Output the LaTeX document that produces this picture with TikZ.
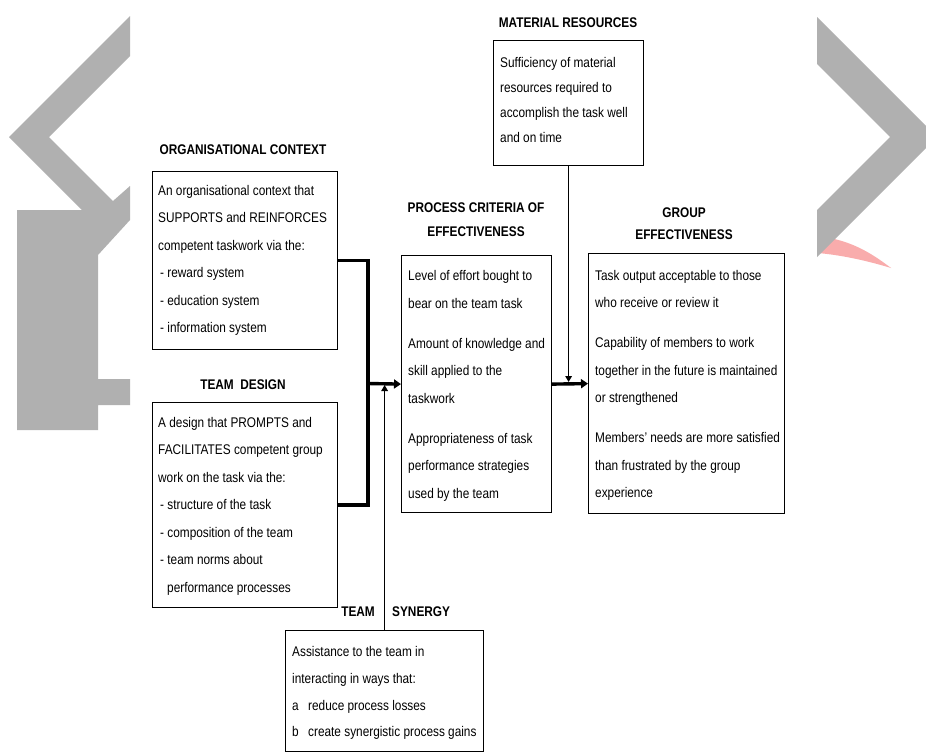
\documentclass[tikz,border=0pt]{standalone}
\usepackage{fontspec}
\setmainfont{Liberation Sans}[FakeStretch=0.845]
\usetikzlibrary{arrows.meta}
\definecolor{shadegrey}{RGB}{176,176,176}
\definecolor{blush}{RGB}{249,172,172}
\begin{document}
\begin{tikzpicture}[x=1pt,y=-1pt,
  box/.style={draw=black, line width=1.2pt, fill=white, inner sep=0pt, anchor=north west},
  body/.style={align=left, inner sep=0pt, anchor=west, font=\fontsize{14}{27.5}\selectfont},
  heading/.style={align=center, inner sep=0pt, font=\fontsize{14}{24}\selectfont\bfseries},
  feed/.style={line width=3.4pt, line cap=rect},
  feedarrow/.style={line width=3.4pt, -{Triangle[length=7pt,width=9pt]}},
  thinarrow/.style={line width=1.6pt, -{Triangle[length=6pt,width=6.5pt]}, shorten >=1.5pt}]
\useasboundingbox (0,0) rectangle (926,753);
\fill[white] (0,0) rectangle (926,753);

% background marks
\begin{scope}
  \clip (0,0) rectangle (926,753);
  \fill[shadegrey] (130,16) -- (9,137) -- (82,210) -- (17,210) -- (17,430) -- (98,430)
    -- (98,405) -- (130,405) -- (130,379) -- (98,379) -- (98,255) -- (130,220)
    -- (130,186) -- (113,201) -- (49,137) -- (130,56) -- cycle;
  \fill[blush] (818,236) .. controls (850,240) and (870,252) .. (891,268)
    .. controls (865,260) and (840,255) .. (818,253) -- cycle;
  \fill[shadegrey] (817,17) -- (937,137) -- (817,257) -- (817,210) -- (890,137) -- (817,64) -- cycle;
\end{scope}

% boxes
\node[box, minimum width=185pt, minimum height=178pt] (oc) at (152,171) {};
\node[box, minimum width=185pt, minimum height=205pt] (td) at (152,402) {};
\node[box, minimum width=150pt, minimum height=257pt] (pc) at (401,255) {};
\node[box, minimum width=196pt, minimum height=260pt] (ge) at (588,253) {};
\node[box, minimum width=150pt, minimum height=125pt] (mr) at (493,40) {};
\node[box, minimum width=198pt, minimum height=121pt] (ts) at (285,630) {};

% headings
\node[heading] (octitle) at (243,150) {ORGANISATIONAL CONTEXT};
\node[heading] (tdtitle) at (243,385) {TEAM\ \ DESIGN};
\node[heading] (pctitle) at (476,220) {PROCESS CRITERIA OF\\EFFECTIVENESS};
\node[heading, font=\fontsize{14}{22}\selectfont\bfseries] (getitle) at (684,224) {GROUP\\EFFECTIVENESS};
\node[heading] (mrtitle) at (568,23) {MATERIAL RESOURCES};
\node[heading, anchor=east] (tstitleA) at (375,612) {TEAM};
\node[heading, anchor=west] (tstitleB) at (392,612) {SYNERGY};

% box texts
\node[body] (octext) at ([xshift=6pt]oc.west) {An organisational context that\\
SUPPORTS and REINFORCES\\
competent taskwork via the:\\
\hspace*{2pt}- reward system\\
\hspace*{2pt}- education system\\
\hspace*{2pt}- information system};

\node[body] (tdtext) at ([xshift=6pt,yshift=-1pt]td.west) {A design that PROMPTS and\\
FACILITATES competent group\\
work on the task via the:\\
\hspace*{2pt}- structure of the task\\
\hspace*{2pt}- composition of the team\\
\hspace*{2pt}- team norms about\\
\hspace*{9pt}performance processes};

\node[body] (pctext) at ([xshift=7pt,yshift=-2pt]pc.west) {Level of effort bought to\\
bear on the team task\\[12.5pt]
Amount of knowledge and\\
skill applied to the\\
taskwork\\[12.5pt]
Appropriateness of task\\
performance strategies\\
used by the team};

\node[body] (getext) at ([xshift=7pt,yshift=-2pt]ge.west) {Task output acceptable to those\\
who receive or review it\\[12.5pt]
Capability of members to work\\
together in the future is maintained\\
or strengthened\\[12.5pt]
Members' needs are more satisfied\\
than frustrated by the group\\
experience};

\node[body, font=\fontsize{14}{25}\selectfont] (mrtext) at ([xshift=7pt,yshift=3pt]mr.west) {Sufficiency of material\\
resources required to\\
accomplish the task well\\
and on time};

\node[body, font=\fontsize{14}{26.7}\selectfont] (tstext) at ([xshift=7pt,yshift=-2pt]ts.west) {Assistance to the team in\\
interacting in ways that:\\
\makebox[16pt][l]{a}reduce process losses\\
\makebox[16pt][l]{b}create synergistic process gains};

% connectors
\coordinate (jn) at (368,383.5);
\draw[feed] (oc.east) -| (jn);
\draw[feed] (td.east) -| (jn);
\draw[feedarrow] (jn) -- (pc.west);
\draw[feedarrow] (pc.east) -- (ge.west);
\draw[thinarrow] (ts.north) -- (ts.north |- jn);
\draw[thinarrow] (mr.south) -- (mr.south |- jn);
\end{tikzpicture}
\end{document}
